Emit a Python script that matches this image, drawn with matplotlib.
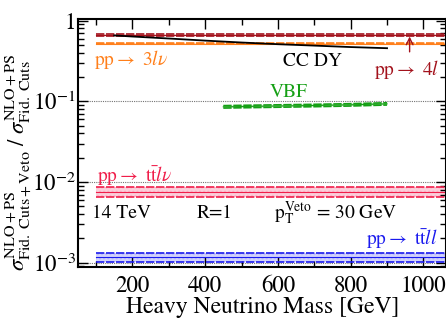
import numpy as np
import matplotlib
matplotlib.use('Agg')
import matplotlib.pyplot as plt
from matplotlib.ticker import FixedLocator, MultipleLocator, LogLocator, FuncFormatter

plt.rcParams['font.family'] = ['STIXGeneral', 'Liberation Serif', 'DejaVu Serif']
plt.rcParams['mathtext.fontset'] = 'stix'

# heavy neutrino mass [GeV] and veto efficiencies
mass_full = [100, 300, 500, 700, 900, 1100]

eff_4l = [0.665, 0.665, 0.665, 0.665, 0.665, 0.665]
eff_4l_lo = [0.652, 0.652, 0.652, 0.652, 0.652, 0.652]
eff_4l_hi = [0.678, 0.678, 0.678, 0.678, 0.678, 0.678]

eff_3lv = [0.515, 0.515, 0.515, 0.515, 0.515, 0.515]
eff_3lv_lo = [0.508, 0.508, 0.508, 0.508, 0.508, 0.508]
eff_3lv_hi = [0.522, 0.522, 0.522, 0.522, 0.522, 0.522]

eff_ttlv = [0.0076, 0.0076, 0.0076, 0.0076, 0.0076, 0.0076]
eff_ttlv_lo = [0.0066, 0.0066, 0.0066, 0.0066, 0.0066, 0.0066]
eff_ttlv_hi = [0.0087, 0.0087, 0.0087, 0.0087, 0.0087, 0.0087]

eff_ttll = [0.00117, 0.00117, 0.00117, 0.00117, 0.00117, 0.00117]
eff_ttll_lo = [0.00103, 0.00103, 0.00103, 0.00103, 0.00103, 0.00103]
eff_ttll_hi = [0.00133, 0.00133, 0.00133, 0.00133, 0.00133, 0.00133]

mass_dy = [150, 200, 300, 400, 500, 600, 700, 800, 900]
eff_dy = [0.655, 0.635, 0.60, 0.565, 0.535, 0.51, 0.49, 0.47, 0.455]

mass_vbf = [450, 500, 600, 700, 800, 900]
eff_vbf = [0.0855, 0.0862, 0.0875, 0.0888, 0.0905, 0.093]
eff_vbf_lo = [0.0825, 0.0832, 0.0845, 0.0858, 0.0875, 0.090]
eff_vbf_hi = [0.0885, 0.0892, 0.0905, 0.0918, 0.0935, 0.096]

c_4l = '#a3121c'
c_3lv = '#ff7f1a'
c_vbf = '#16a016'
c_ttlv = '#f01e4a'
c_ttll = '#1a1aee'

fig = plt.figure(figsize=(4.46, 3.2), dpi=100)
ax = fig.add_axes([0.176, 0.166, 0.824, 0.775])

def band(x, mid, lo, hi, col, fill_col):
    ax.fill_between(x, lo, hi, facecolor=fill_col, edgecolor=fill_col, hatch='....', lw=0, alpha=0.5)
    ax.plot(x, lo, color=col, lw=1.2, ls=(0, (5, 1.0)))
    ax.plot(x, hi, color=col, lw=1.2, ls=(0, (5, 1.0)))
    ax.plot(x, mid, color=col, lw=0.8)

for yv in [0.1, 0.01, 0.001]:
    ax.axhline(yv, color='0.45', lw=0.8, ls=(0, (1, 1)), zorder=0)

band(mass_full, eff_4l, eff_4l_lo, eff_4l_hi, c_4l, '#e8a0a0')
band(mass_full, eff_3lv, eff_3lv_lo, eff_3lv_hi, c_3lv, '#ffc080')
band(mass_vbf, eff_vbf, eff_vbf_lo, eff_vbf_hi, c_vbf, '#90d890')
band(mass_full, eff_ttlv, eff_ttlv_lo, eff_ttlv_hi, c_ttlv, '#f8a0b8')
band(mass_full, eff_ttll, eff_ttll_lo, eff_ttll_hi, c_ttll, '#a8a8f8')
ax.plot(mass_dy, eff_dy, color='black', lw=1.3)

ax.set_yscale('log')
ax.set_xlim(52, 1062)
ax.set_ylim(0.00089, 1.05)

ax.xaxis.set_major_locator(MultipleLocator(200))
ax.xaxis.set_minor_locator(MultipleLocator(100))
ax.yaxis.set_major_locator(FixedLocator([1e-3, 1e-2, 1e-1, 1]))
ax.yaxis.set_minor_locator(LogLocator(base=10, subs=np.arange(2, 10)))

def ylab(v, pos):
    if v >= 1:
        return '1'
    return r'$10^{%d}$' % int(round(np.log10(v)))

ax.yaxis.set_major_formatter(FuncFormatter(ylab))
ax.tick_params(which='both', direction='in', top=True, right=True, labelsize=16.5, width=1.0)
ax.tick_params(which='major', length=7)
ax.tick_params(which='minor', length=4)
ax.tick_params(axis='x', pad=6)
ax.tick_params(axis='y', pad=2)
for s in ax.spines.values():
    s.set_linewidth(1.5)

ax.set_xlabel('Heavy Neutrino Mass [GeV]', fontsize=17, labelpad=0)
ax.set_ylabel(r'$\sigma^{\mathrm{NLO+PS}}_{\mathrm{Fid.\ Cuts+Veto}}\ /\ \sigma^{\mathrm{NLO+PS}}_{\mathrm{Fid.\ Cuts}}$',
              fontsize=16.5)
ax.yaxis.set_label_coords(-0.118, 0.42)

fs = 14
ax.text(95, 0.327, r'pp$\rightarrow$ 3$l\nu$', color=c_3lv, fontsize=fs, va='center')
ax.text(615, 0.31, 'CC DY', color='black', fontsize=fs, va='center')
ax.text(865, 0.245, r'pp$\rightarrow$ 4$l$', color=c_4l, fontsize=fs, va='center')
ax.annotate('', xy=(962, 0.635), xytext=(962, 0.41), zorder=6,
            arrowprops=dict(arrowstyle='->', color=c_4l, lw=1.0, shrinkA=0, shrinkB=0,
                            mutation_scale=12))
ax.text(577, 0.128, 'VBF', color=c_vbf, fontsize=fs, va='center')
ax.text(102, 0.0117, r'pp$\rightarrow$ t$\bar{\mathrm{t}}$$l\nu$', color=c_ttlv, fontsize=fs, va='center')
ax.text(90, 0.0041, '14 TeV', color='black', fontsize=fs, va='center')
ax.text(378, 0.0041, 'R=1', color='black', fontsize=fs, va='center')
ax.text(590, 0.0041, r'p$_\mathrm{T}^\mathrm{Veto}$ = 30 GeV', color='black', fontsize=fs, va='center')
ax.text(842, 0.00193, r'pp$\rightarrow$ t$\bar{\mathrm{t}}$$ll$', color=c_ttll, fontsize=fs, va='center')

fig.savefig('out.png', dpi=100)
